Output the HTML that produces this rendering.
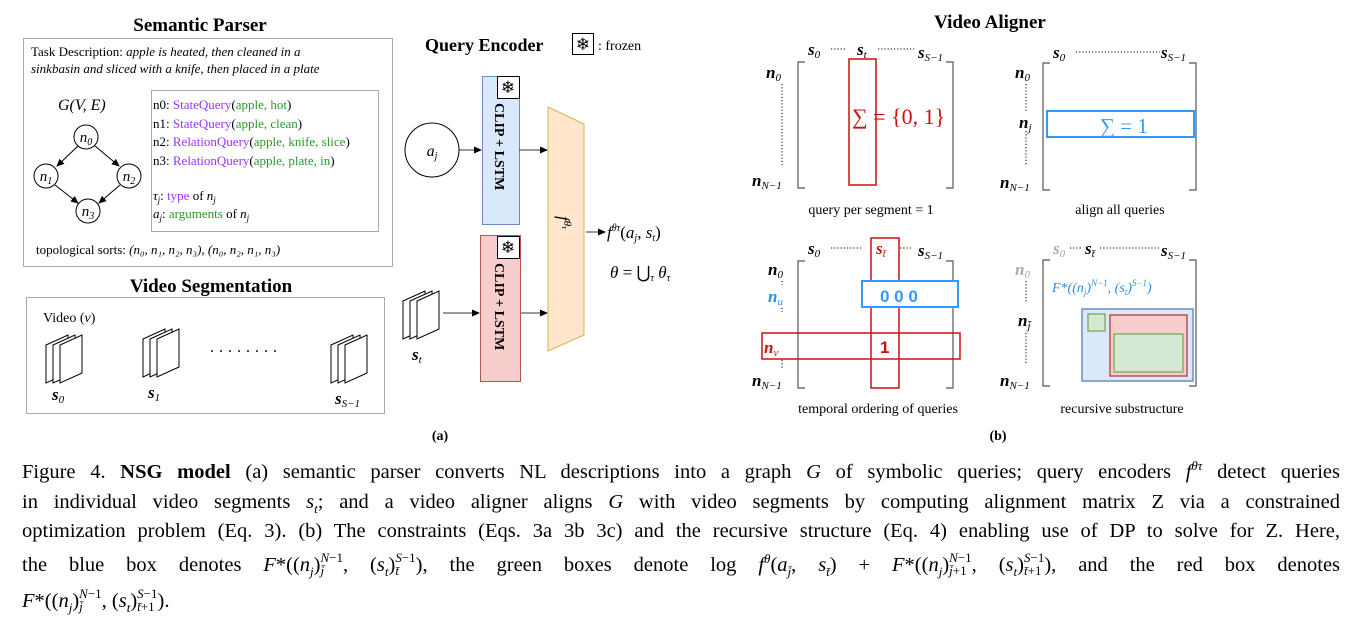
<!DOCTYPE html>
<html><head><meta charset="utf-8"><style>
body{margin:0;background:#fff;width:1362px;height:634px;overflow:hidden;position:relative;font-family:"Liberation Serif",serif}
svg{position:absolute;left:0;top:0}
.cap{position:absolute;left:22px;width:1318px;font-size:20.5px;color:#000;white-space:nowrap;text-align:justify;text-align-last:justify;line-height:1}
.cap i{font-style:italic}
sup,sub{font-size:13px;line-height:0}
.ss{display:inline-flex;flex-direction:column;font-size:13px;line-height:13px;vertical-align:9px;text-align:left}
</style></head><body>
<svg width="1362" height="460" viewBox="0 0 1362 460" font-family="Liberation Serif, serif">
<defs>
<marker id="ar" markerWidth="8" markerHeight="8" refX="7" refY="4" orient="auto"><path d="M0,0.5 L8,4 L0,7.5 z" fill="#000"/></marker>
<g id="fr"><polygon points="0,12 22,2 22,40 0,50" fill="#fff" stroke="#000" stroke-width="1"/></g>
<g id="frames"><use href="#fr"/><use href="#fr" x="7"/><use href="#fr" x="14"/></g>
</defs>
<text x="200" y="31" font-size="19" font-weight="bold" text-anchor="middle">Semantic Parser</text>
<rect x="23.5" y="38.5" width="369" height="228" fill="none" stroke="#aaa"/>
<text x="31" y="56" font-size="13">Task Description: <tspan font-style="italic">apple is heated, then cleaned in a</tspan></text>
<text x="31" y="73" font-size="13" font-style="italic">sinkbasin and sliced with a knife, then placed in a plate</text>
<text x="58" y="110" font-size="16" font-style="italic">G(V, E)</text>
<rect x="151.5" y="90.5" width="227" height="141" fill="none" stroke="#aaa"/>
<g font-size="13">
<text x="153" y="109">n0: <tspan fill="#9933ff">StateQuery</tspan>(<tspan fill="#2a9a2a">apple, hot</tspan>)</text>
<text x="153" y="128">n1: <tspan fill="#9933ff">StateQuery</tspan>(<tspan fill="#2a9a2a">apple, clean</tspan>)</text>
<text x="153" y="146">n2: <tspan fill="#9933ff">RelationQuery</tspan>(<tspan fill="#2a9a2a">apple, knife, slice</tspan>)</text>
<text x="153" y="165">n3: <tspan fill="#9933ff">RelationQuery</tspan>(<tspan fill="#2a9a2a">apple, plate, in</tspan>)</text>
<text x="153" y="200"><tspan font-style="italic">τ<tspan font-size="9" dy="3">j</tspan></tspan><tspan dy="-3">: </tspan><tspan fill="#9933ff">type</tspan> of <tspan font-style="italic">n<tspan font-size="9" dy="3">j</tspan></tspan></text>
<text x="153" y="218"><tspan font-style="italic">a<tspan font-size="9" dy="3">j</tspan></tspan><tspan dy="-3">: </tspan><tspan fill="#2a9a2a">arguments</tspan> of <tspan font-style="italic">n<tspan font-size="9" dy="3">j</tspan></tspan></text>
</g>
<g fill="#fff" stroke="#000" stroke-width="1">
<circle cx="86" cy="137" r="12"/><circle cx="46" cy="176" r="12"/><circle cx="129" cy="176" r="12"/><circle cx="88" cy="211" r="12"/>
</g>
<g stroke="#000" stroke-width="1" marker-end="url(#ar)">
<line x1="78" y1="146" x2="57" y2="166"/><line x1="95" y1="146" x2="119" y2="166"/>
<line x1="55" y1="185" x2="78" y2="203"/><line x1="120" y1="185" x2="99" y2="203"/>
</g>
<g font-size="15" font-style="italic" text-anchor="middle">
<text x="86" y="142">n<tspan font-size="10" dy="3">0</tspan></text>
<text x="46" y="181">n<tspan font-size="10" dy="3">1</tspan></text>
<text x="129" y="181">n<tspan font-size="10" dy="3">2</tspan></text>
<text x="88" y="216">n<tspan font-size="10" dy="3">3</tspan></text>
</g>
<text x="36" y="254" font-size="13">topological sorts: <tspan font-style="italic">(n₀, n₁, n₂, n₃), (n₀, n₂, n₁, n₃)</tspan></text>
<text x="211" y="292" font-size="19" font-weight="bold" text-anchor="middle">Video Segmentation</text>
<rect x="26.5" y="297.5" width="358" height="116" fill="none" stroke="#aaa"/>
<text x="43" y="322" font-size="14">Video (<tspan font-style="italic">v</tspan>)</text>
<use href="#frames" x="46" y="333"/><use href="#frames" x="143" y="327"/><use href="#frames" x="331" y="333"/>
<text x="210" y="352" font-size="16" letter-spacing="5">........</text>
<g font-size="17" font-style="italic" font-weight="bold">
<text x="52" y="400">s<tspan font-size="11" font-weight="normal" dy="3">0</tspan></text>
<text x="148" y="398">s<tspan font-size="11" font-weight="normal" dy="3">1</tspan></text>
<text x="335" y="404">s<tspan font-size="11" font-weight="normal" dy="3">S−1</tspan></text>
<text x="412" y="360">s<tspan font-size="11" font-weight="normal" dy="3">t</tspan></text>
</g>
<text x="425" y="51" font-size="18" font-weight="bold">Query Encoder</text>
<rect x="572.5" y="33.5" width="21" height="21" fill="#fff" stroke="#000"/>
<text x="583" y="50" font-size="17" text-anchor="middle" font-family="DejaVu Sans">❄</text>
<text x="598" y="50" font-size="14">: frozen</text>
<circle cx="432" cy="150" r="27" fill="#fff" stroke="#000"/>
<text x="432" y="156" font-size="16" font-style="italic" text-anchor="middle">a<tspan font-size="10" dy="3">j</tspan></text>
<rect x="482.5" y="76.5" width="37" height="148" fill="#dae8fc" stroke="#6c8ebf"/>
<rect x="497.5" y="76.5" width="22" height="22" fill="#fff" stroke="#000"/>
<text x="508" y="93" font-size="17" text-anchor="middle" font-family="DejaVu Sans">❄</text>
<text transform="translate(495,103) rotate(90)" font-size="14" font-weight="bold">CLIP + LSTM</text>
<rect x="480.5" y="235.5" width="40" height="146" fill="#f8cecc" stroke="#b85450"/>
<rect x="497.5" y="236.5" width="22" height="22" fill="#fff" stroke="#000"/>
<text x="508" y="253" font-size="17" text-anchor="middle" font-family="DejaVu Sans">❄</text>
<text transform="translate(495,263) rotate(90)" font-size="14" font-weight="bold">CLIP + LSTM</text>
<polygon points="548,107 584,124 584,335 548,351" fill="#ffe6cc" stroke="#d6b656"/>
<text transform="translate(558,216) rotate(90)" font-size="17" font-style="italic">f<tspan font-size="11" dy="-6">θ</tspan><tspan font-size="8" dy="2">τ</tspan></text>
<use href="#frames" x="403" y="289"/>
<g stroke="#333" stroke-width="1" marker-end="url(#ar)">
<line x1="459" y1="150" x2="481" y2="150"/><line x1="519" y1="150" x2="547" y2="150"/>
<line x1="443" y1="313" x2="479" y2="313"/><line x1="521" y1="313" x2="547" y2="313"/>
<line x1="586" y1="232" x2="605" y2="232"/>
</g>
<text x="607" y="238" font-size="17" font-style="italic">f<tspan font-size="10" dy="-7">θτ</tspan><tspan dy="7" font-style="normal">(</tspan>a<tspan font-size="10" dy="3">j</tspan><tspan dy="-3" font-style="normal">, </tspan>s<tspan font-size="10" dy="3">t</tspan><tspan dy="-3" font-style="normal">)</tspan></text>
<text x="610" y="278" font-size="17"><tspan font-style="italic">θ</tspan> = ⋃<tspan font-size="10" dy="3" font-style="italic">τ</tspan><tspan dy="-3" font-style="italic"> θ</tspan><tspan font-size="10" dy="3" font-style="italic">τ</tspan></text>
<text x="440" y="440" font-size="14" font-weight="bold" text-anchor="middle">(a)</text>
<text x="990" y="28" font-size="19" font-weight="bold" text-anchor="middle">Video Aligner</text>
<g fill="none" stroke="#555" stroke-width="1.2">
<path d="M805,62 H798 V188 H805"/><path d="M946,62 H953 V188 H946"/>
<path d="M1050,63 H1043 V190 H1050"/><path d="M1189,63 H1196 V190 H1189"/>
<path d="M805,261 H798 V388 H805"/><path d="M946,261 H953 V388 H946"/>
<path d="M1050,260 H1043 V386 H1050"/><path d="M1189,260 H1196 V386 H1189"/>
</g>
<g stroke="#000" stroke-dasharray="1.2,2" stroke-width="1">
<line x1="831" y1="49" x2="845" y2="49"/><line x1="878" y1="49" x2="914" y2="49"/>
<line x1="782" y1="84" x2="782" y2="165"/>
<line x1="1076" y1="52" x2="1160" y2="52"/><line x1="1026" y1="84" x2="1026" y2="112"/><line x1="1026" y1="131" x2="1026" y2="166"/>
<line x1="831" y1="248" x2="862" y2="248"/><line x1="900" y1="248" x2="912" y2="248"/>
<line x1="782" y1="281" x2="782" y2="285"/><line x1="782" y1="308" x2="782" y2="312"/><line x1="782" y1="360" x2="782" y2="368"/>
<line x1="1070" y1="248" x2="1082" y2="248"/><line x1="1100" y1="248" x2="1160" y2="248"/>
<line x1="1026" y1="281" x2="1026" y2="302"/><line x1="1026" y1="333" x2="1026" y2="364"/>
</g>
<g font-size="17" font-style="italic" font-weight="bold">
<text x="808" y="55">s<tspan font-size="11" font-weight="normal" dy="3">0</tspan></text>
<text x="857" y="55">s<tspan font-size="11" font-weight="normal" dy="3">t</tspan></text>
<text x="918" y="58">s<tspan font-size="11" font-weight="normal" dy="3">S−1</tspan></text>
<text x="766" y="78">n<tspan font-size="11" font-weight="normal" dy="3">0</tspan></text>
<text x="752" y="186">n<tspan font-size="11" font-weight="normal" dy="3">N−1</tspan></text>
<text x="1053" y="58">s<tspan font-size="11" font-weight="normal" dy="3">0</tspan></text>
<text x="1161" y="58">s<tspan font-size="11" font-weight="normal" dy="3">S−1</tspan></text>
<text x="1015" y="78">n<tspan font-size="11" font-weight="normal" dy="3">0</tspan></text>
<text x="1019" y="128">n<tspan font-size="11" font-weight="normal" dy="3">j</tspan></text>
<text x="1000" y="188">n<tspan font-size="11" font-weight="normal" dy="3">N−1</tspan></text>
<text x="808" y="254">s<tspan font-size="11" font-weight="normal" dy="3">0</tspan></text>
<text x="876" y="254" fill="#cc1111">s<tspan font-size="11" font-weight="normal" dy="3">t̄</tspan></text>
<text x="918" y="256">s<tspan font-size="11" font-weight="normal" dy="3">S−1</tspan></text>
<text x="768" y="275">n<tspan font-size="11" font-weight="normal" dy="3">0</tspan></text>
<text x="768" y="302" fill="#2f8fe0">n<tspan font-size="11" font-weight="normal" dy="3">u</tspan></text>
<text x="764" y="353" fill="#cc1111">n<tspan font-size="11" font-weight="normal" dy="3">v</tspan></text>
<text x="752" y="386">n<tspan font-size="11" font-weight="normal" dy="3">N−1</tspan></text>
<text x="1053" y="254" fill="#aaa">s<tspan font-size="11" font-weight="normal" dy="3">0</tspan></text>
<text x="1085" y="254">s<tspan font-size="11" font-weight="normal" dy="3">t̄</tspan></text>
<text x="1161" y="256">s<tspan font-size="11" font-weight="normal" dy="3">S−1</tspan></text>
<text x="1015" y="275" fill="#aaa">n<tspan font-size="11" font-weight="normal" dy="3">0</tspan></text>
<text x="1018" y="326">n<tspan font-size="11" font-weight="normal" dy="3">j̄</tspan></text>
<text x="1000" y="386">n<tspan font-size="11" font-weight="normal" dy="3">N−1</tspan></text>
</g>
<rect x="849" y="59" width="27" height="126" fill="none" stroke="#cc1111" stroke-width="1.5"/>
<text x="852" y="124" font-size="22" fill="#cc1111">∑ = {0, 1}</text>
<rect x="1047" y="111" width="147" height="26" fill="none" stroke="#3399ff" stroke-width="2"/>
<text x="1100" y="133" font-size="21" fill="#3399ff">∑ = 1</text>
<text x="871" y="214" font-size="14" text-anchor="middle">query per segment = 1</text>
<text x="1120" y="214" font-size="14" text-anchor="middle">align all queries</text>
<rect x="871" y="238" width="28" height="150" fill="none" stroke="#cc1111" stroke-width="1.5"/>
<rect x="862" y="281" width="96" height="26" fill="#fff" stroke="#3399ff" stroke-width="2"/>
<text x="880" y="302" font-size="17" font-weight="bold" fill="#3399ff" font-family="Liberation Sans, sans-serif">0   0   0</text>
<rect x="762" y="333" width="198" height="26" fill="none" stroke="#cc1111" stroke-width="1.5"/>
<text x="880" y="353" font-size="17" font-weight="bold" fill="#cc1111" font-family="Liberation Sans, sans-serif">1</text>
<text x="1052" y="292" font-size="14" font-style="italic" fill="#2f8fe0">F*((n<tspan font-size="9" dy="3">j</tspan><tspan dy="-3">)</tspan><tspan font-size="9" dy="-6">N−1</tspan><tspan dy="6">, (s</tspan><tspan font-size="9" dy="3">t</tspan><tspan dy="-3">)</tspan><tspan font-size="9" dy="-6">S−1</tspan><tspan dy="6">)</tspan></text>
<rect x="1082" y="309" width="111" height="72" fill="#dae8fc" stroke="#6c8ebf" stroke-width="1.5"/>
<rect x="1088" y="314" width="17" height="17" fill="#d5e8d4" stroke="#82b366" stroke-width="1.5"/>
<rect x="1110" y="315" width="77" height="61" fill="#f8cecc" stroke="#b85450" stroke-width="1.5"/>
<rect x="1114" y="334" width="69" height="38" fill="#d5e8d4" stroke="#82b366" stroke-width="1.5"/>
<text x="878" y="413" font-size="14" text-anchor="middle">temporal ordering of queries</text>
<text x="1122" y="413" font-size="14" text-anchor="middle">recursive substructure</text>
<text x="998" y="440" font-size="14" font-weight="bold" text-anchor="middle">(b)</text>
</svg>
<div class="cap" style="top:462px">Figure 4. <b>NSG model</b> (a) semantic parser converts NL descriptions into a graph <i>G</i> of symbolic queries; query encoders <i>f</i><sup><i>θτ</i></sup> detect queries</div>
<div class="cap" style="top:492px">in individual video segments <i>s<sub>t</sub></i>; and a video aligner aligns <i>G</i> with video segments by computing alignment matrix Z via a constrained</div>
<div class="cap" style="top:521px">optimization problem (Eq. 3). (b) The constraints (Eqs. 3a 3b 3c) and the recursive structure (Eq. 4) enabling use of DP to solve for Z. Here,</div>
<div class="cap" style="top:551px">the blue box denotes <i>F</i>*((<i>n<sub>j</sub></i>)<span class="ss"><span><i>N</i>−1</span><span><i>j̄</i></span></span>, (<i>s<sub>t</sub></i>)<span class="ss"><span><i>S</i>−1</span><span><i>t̄</i></span></span>), the green boxes denote log <i>f</i><sup><i>θ</i></sup>(<i>a<sub>j̄</sub></i>, <i>s<sub>t̄</sub></i>) + <i>F</i>*((<i>n<sub>j</sub></i>)<span class="ss"><span><i>N</i>−1</span><span><i>j̄</i>+1</span></span>, (<i>s<sub>t</sub></i>)<span class="ss"><span><i>S</i>−1</span><span><i>t̄</i>+1</span></span>), and the red box denotes</div>
<div class="cap" style="top:587px;text-align-last:left"><i>F</i>*((<i>n<sub>j</sub></i>)<span class="ss"><span><i>N</i>−1</span><span><i>j̄</i></span></span>, (<i>s<sub>t</sub></i>)<span class="ss"><span><i>S</i>−1</span><span><i>t̄</i>+1</span></span>).</div>
</body></html>
